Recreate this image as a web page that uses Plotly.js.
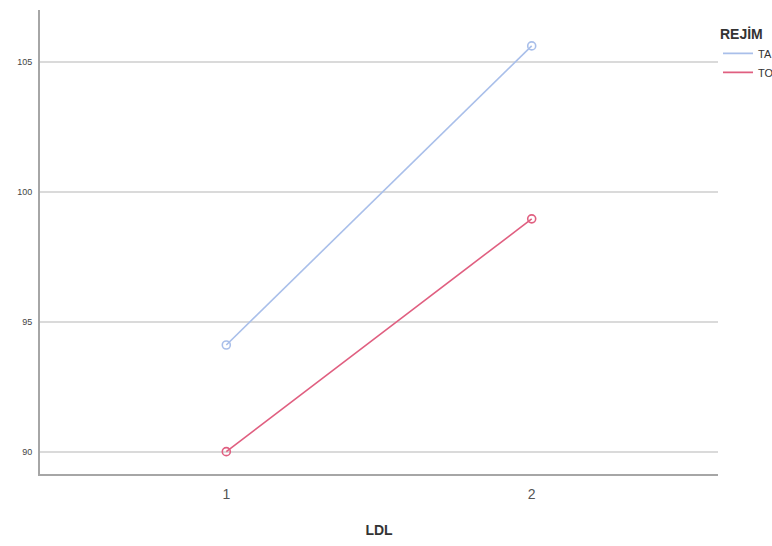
<!DOCTYPE html>
<html>
<head>
<meta charset="utf-8">
<script src="https://cdn.plot.ly/plotly-3.0.1.min.js"></script>
<style>html,body{margin:0;padding:0;background:#fff;}#chart{width:772px;height:546px;}</style>
</head>
<body>
<div id="chart"></div>
<script>
const ldl = [1, 2];
const seriesNames = ["TA", "TO"];
const taValues = [94.1, 105.6];
const toValues = [90.0, 98.95];
const yTicks = [90, 95, 100, 105];
const xTicks = [1, 2];

const colors = ["#a9bfea", "#e05f80"];
const traces = [taValues, toValues].map((vals, i) => ({
  x: ldl, y: vals, name: seriesNames[i], type: "scatter", mode: "lines+markers",
  showlegend: false,
  line: {color: colors[i], width: 1.6},
  marker: {symbol: "circle-open", size: 8, color: colors[i], line: {width: 1.6, color: colors[i]}}
}));
// legend entries (line only, as in the reference)
seriesNames.forEach((n, i) => traces.push({
  x: [null], y: [null], name: n, type: "scatter", mode: "lines",
  line: {color: colors[i], width: 1.6}, showlegend: true
}));

const layout = {
  width: 772, height: 546,
  margin: {l: 40, r: 54, t: 10, b: 72, autoexpand: false},
  paper_bgcolor: "#fff", plot_bgcolor: "#fff",
  font: {family: "Liberation Sans, Arial, sans-serif", color: "#444"},
  xaxis: {
    range: [0.39, 2.61], tickvals: xTicks, ticktext: xTicks.map(String),
    showgrid: false, zeroline: false, showline: true, linecolor: "#a6a6a6", linewidth: 2,
    ticks: "", tickfont: {size: 14, color: "#555"}, ticklabelstandoff: 6,
    title: {text: "<b>LDL</b>", font: {size: 14, color: "#333"}, standoff: 24}
  },
  yaxis: {
    range: [89.14, 106.98], tickvals: yTicks, ticktext: yTicks.map(String),
    showgrid: true, gridcolor: "#dadada", gridwidth: 2, zeroline: false,
    showline: true, linecolor: "#a6a6a6", linewidth: 2,
    ticks: "", tickfont: {size: 9, color: "#444"}, ticklabelstandoff: 4
  },
  showlegend: true,
  legend: {
    x: 1.0, xanchor: "left", y: 0.977, yanchor: "top",
    title: {text: "<b>REJİM</b>", font: {size: 14, color: "#333"}},
    font: {size: 11, color: "#333"}, bgcolor: "rgba(0,0,0,0)", tracegroupgap: 0
  }
};

Plotly.newPlot("chart", traces, layout, {displayModeBar: false, staticPlot: true});
</script>
</body>
</html>
